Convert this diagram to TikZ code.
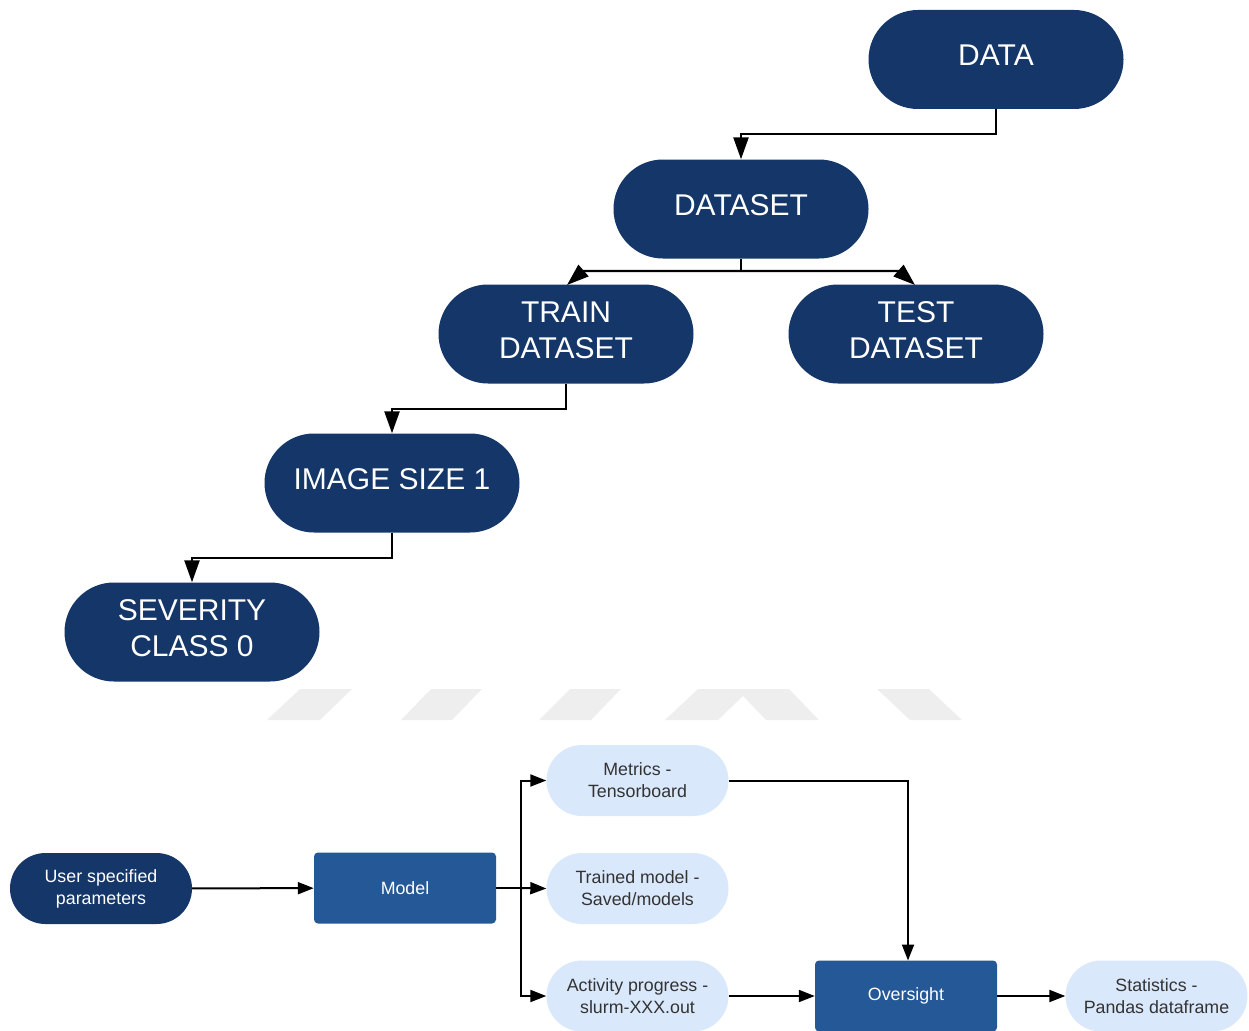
\documentclass[tikz,border=0pt]{standalone}
\usepackage{fontspec}
\setmainfont{Liberation Sans}
\usetikzlibrary{arrows.meta}
\definecolor{navy}{RGB}{20,54,104}
\definecolor{midblue}{RGB}{37,88,150}
\definecolor{paleblue}{RGB}{218,232,252}
\definecolor{darktext}{RGB}{51,51,51}
\definecolor{bandgray}{RGB}{238,238,238}
\tikzset{
  bigpill/.style={fill=navy, rounded corners=49.5pt, minimum width=255pt,
    minimum height=99pt, inner sep=0pt,
    label={[text=white, align=center, yshift=4pt,
      font=\fontsize{30}{36}\selectfont]center:#1}},
  darkpill/.style={fill=navy, text=white, rounded corners=35.5pt, minimum width=182pt,
    minimum height=71pt, inner sep=0pt, align=center,
    font=\fontsize{17.8}{22}\selectfont},
  palepill/.style={fill=paleblue, text=darktext, rounded corners=35.5pt, minimum width=182pt,
    minimum height=71pt, inner sep=0pt, align=center,
    font=\fontsize{17.8}{22}\selectfont},
  procbox/.style={fill=midblue, text=white, rounded corners=4pt, minimum width=182pt,
    minimum height=71pt, inner sep=0pt, align=center,
    font=\fontsize{17.8}{22}\selectfont},
  bigarrow/.style={line width=2.4pt, -{Triangle[length=22pt,width=15pt]}},
  smallarrow/.style={line width=2pt, -{Triangle[length=16pt,width=12pt]}},
  plainline/.style={line width=2pt},
}
\begin{document}
\begin{tikzpicture}[x=1pt,y=-1pt]
\useasboundingbox (0,0) rectangle (1249,1030);

% faint band of slanted shapes
\fill[bandgray] (267,720) -- (300,689) -- (352,689) -- (320,720) -- cycle;
\fill[bandgray] (401,720) -- (431,689) -- (482,689) -- (452,720) -- cycle;
\fill[bandgray] (539,720) -- (570,689) -- (621,689) -- (591,720) -- cycle;
\fill[bandgray] (665,720) -- (698,689) -- (789,689) -- (819,720) -- (766,720) -- (743,696) -- (718,720) -- cycle;
\fill[bandgray] (877,689) -- (929,689) -- (962,720) -- (910,720) -- cycle;

% dataset hierarchy
\node[bigpill={DATA}] (data) at (996,59.5) {};
\node[bigpill={DATASET}] (dataset) at (741,209) {};
\node[bigpill={TRAIN\\DATASET}] (train) at (566,334) {};
\node[bigpill={TEST\\DATASET}] (test) at (916,334) {};
\node[bigpill={IMAGE SIZE 1}] (img) at (392,483) {};
\node[bigpill={SEVERITY\\CLASS 0}] (sev) at (192,632) {};

\draw[bigarrow] (data.south) |- (741,134) -- (dataset.north);
\draw[plainline, line width=2.4pt] (dataset.south) -- (741,271);
\coordinate (tl) at (567,285);
\coordinate (tr) at (915,285);
\draw[bigarrow] (741,271) -- (583,271) -- (tl);
\draw[bigarrow] (741,271) -- (899,271) -- (tr);
\draw[bigarrow] (train.south) |- (392,409) -- (img.north);
\draw[bigarrow] (img.south) |- (192,558) -- (sev.north);

% training pipeline
\node[darkpill] (user) at (101,888.5) {User specified\\parameters};
\node[procbox] (model) at (405,888) {Model};
\node[palepill] (metrics) at (637.5,780.5) {Metrics -\\Tensorboard};
\node[palepill] (trained) at (637.5,888.5) {Trained model -\\Saved/models};
\node[palepill] (activity) at (637.5,996) {Activity progress -\\slurm-XXX.out};
\node[procbox] (over) at (906,996) {Oversight};
\node[palepill] (stats) at (1156.5,996) {Statistics -\\Pandas dataframe};

\coordinate (split) at (521,888);
\draw[smallarrow] (user) -- (model);
\draw[plainline] (model.east) -- (split);
\draw[smallarrow] (split) |- (metrics.west);
\draw[smallarrow] (split) -- (trained.west);
\draw[smallarrow] (split) |- (activity.west);
\draw[smallarrow] (metrics.east) -| (908,960.5);
\draw[smallarrow] (activity) -- (over);
\draw[smallarrow] (over) -- (stats);
\end{tikzpicture}
\end{document}
